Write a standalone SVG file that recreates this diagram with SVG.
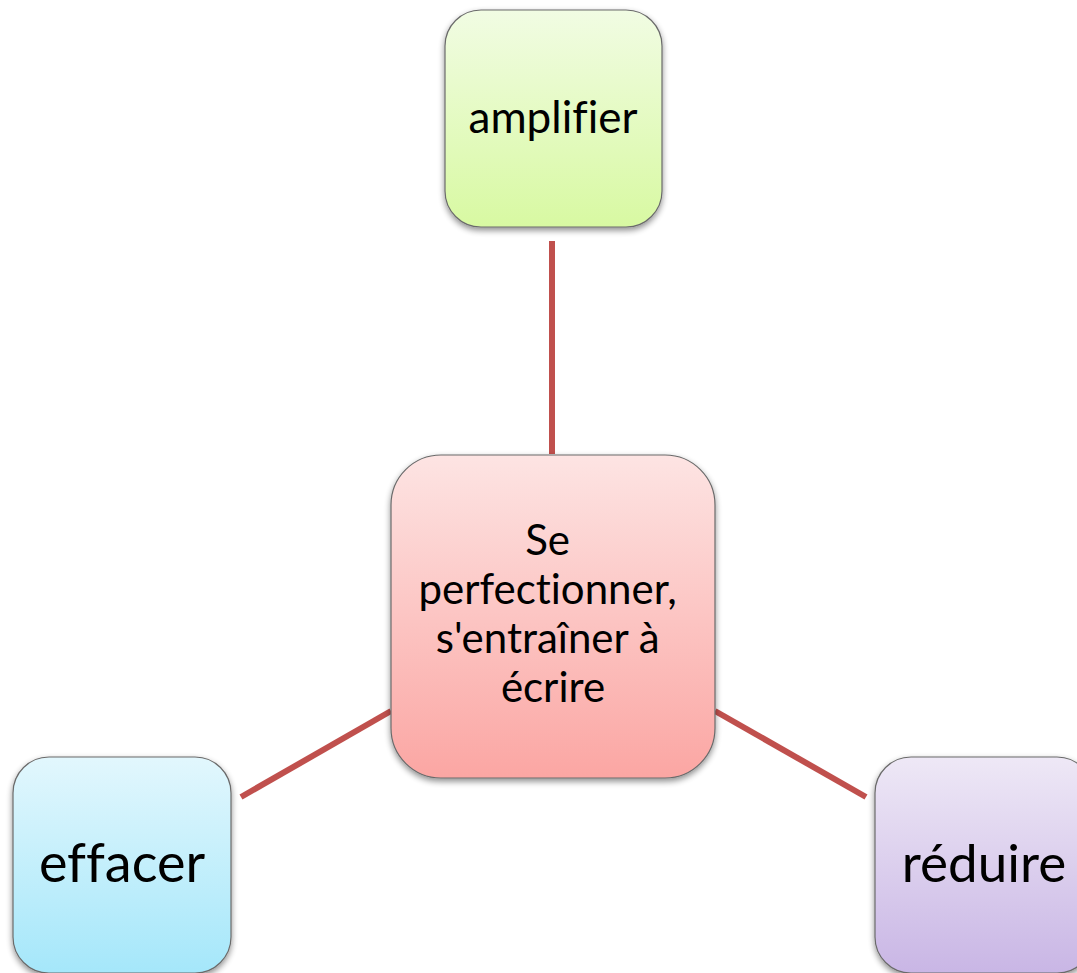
<svg xmlns="http://www.w3.org/2000/svg" width="1077" height="973" viewBox="0 0 1077 973">
  <defs>
    <linearGradient id="gGreen" x1="0" y1="0" x2="0" y2="1">
      <stop offset="0" stop-color="#f1fce3"/>
      <stop offset="1" stop-color="#d8f9a2"/>
    </linearGradient>
    <linearGradient id="gRed" x1="0" y1="0" x2="0" y2="1">
      <stop offset="0" stop-color="#fde4e3"/>
      <stop offset="1" stop-color="#fba6a3"/>
    </linearGradient>
    <linearGradient id="gBlue" x1="0" y1="0" x2="0" y2="1">
      <stop offset="0" stop-color="#e2f7fd"/>
      <stop offset="1" stop-color="#a5e7fa"/>
    </linearGradient>
    <linearGradient id="gPurple" x1="0" y1="0" x2="0" y2="1">
      <stop offset="0" stop-color="#eee8f6"/>
      <stop offset="1" stop-color="#c9b6e5"/>
    </linearGradient>
    <filter id="shadow" x="-10%" y="-10%" width="120%" height="125%">
      <feGaussianBlur in="SourceAlpha" stdDeviation="3"/>
      <feOffset dy="3" result="b"/>
      <feComponentTransfer><feFuncA type="linear" slope="0.45"/></feComponentTransfer>
      <feMerge><feMergeNode/><feMergeNode in="SourceGraphic"/></feMerge>
    </filter>
  </defs>
  <style>
    .box { stroke: #6b6b6b; stroke-width: 1.2; filter: url(#shadow); }
    .lbl { font-family: Lato, "Open Sans", sans-serif; fill: #000; text-anchor: middle; font-variant-ligatures: none; font-feature-settings: "liga" 0, "dlig" 0; }
    .conn { stroke: #c0504d; stroke-width: 6; fill: none; }
  </style>
  <rect width="1077" height="973" fill="#ffffff"/>

  <!-- spokes from the central box -->
  <g id="connectors">
    <line class="conn" x1="552" y1="241" x2="552" y2="454"/>
    <line class="conn" x1="241" y1="797" x2="391" y2="711"/>
    <line class="conn" x1="715" y1="711" x2="866" y2="797"/>
  </g>

  <g id="node-amplifier">
    <rect class="box" x="445" y="10" width="217" height="217" rx="36" fill="url(#gGreen)"/>
    <text class="lbl" x="553" y="133" font-size="44">amplifier</text>
  </g>

  <g id="node-center">
    <rect class="box" x="391" y="455" width="324" height="323" rx="50" fill="url(#gRed)"/>
    <text class="lbl" font-size="42">
      <tspan x="553" y="555">Se</tspan>
      <tspan x="553" y="604">perfectionner,</tspan>
      <tspan x="553" y="653">s'entraîner à</tspan>
      <tspan x="553" y="702">écrire</tspan>
    </text>
  </g>

  <g id="node-effacer">
    <rect class="box" x="13" y="757" width="218" height="216" rx="36" fill="url(#gBlue)"/>
    <text class="lbl" x="122" y="882" font-size="54">effacer</text>
  </g>

  <g id="node-reduire">
    <rect class="box" x="875" y="757" width="218" height="216" rx="36" fill="url(#gPurple)"/>
    <text class="lbl" x="984" y="882" font-size="53">réduire</text>
  </g>
</svg>
